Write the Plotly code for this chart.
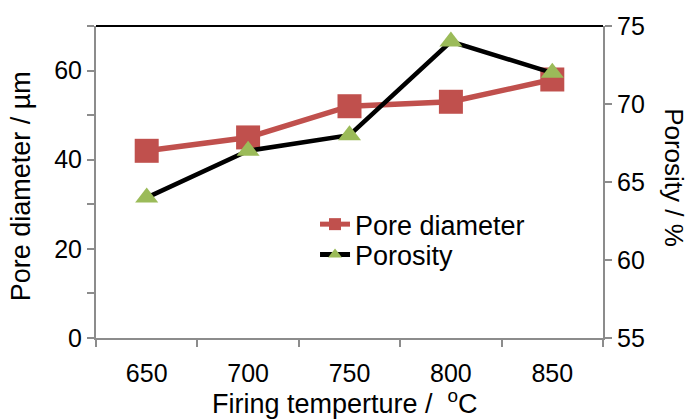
import plotly.graph_objects as go

# Firing temperature categories and measured properties
temperatures = ["650", "700", "750", "800", "850"]
pore_diameter = [42, 45, 52, 53, 58]      # µm
porosity = [64, 67, 68, 74, 72]           # %

left_ticks = [0, 10, 20, 30, 40, 50, 60, 70]
left_labels = ["0", "", "20", "", "40", "", "60", ""]
right_ticks = [55, 60, 65, 70, 75]

RED = "#C0504D"
GREEN = "#9BBB59"
AXIS_GREY = "#8c8c8c"
FONT = "Liberation Sans, Arial, sans-serif"

fig = go.Figure()

fig.add_trace(go.Scatter(
    x=temperatures, y=pore_diameter, name="Pore diameter",
    mode="lines+markers",
    line=dict(color=RED, width=5.5),
    marker=dict(symbol="square", size=24, color=RED),
    yaxis="y", legend="legend",
))
fig.add_trace(go.Scatter(
    x=temperatures, y=porosity, name="Porosity",
    mode="lines+markers",
    line=dict(color="black", width=4.5),
    marker=dict(symbol="triangle-up", size=20, color=GREEN),
    yaxis="y2", legend="legend2",
))

axis_common = dict(
    showgrid=False, zeroline=False, showline=True,
    linecolor=AXIS_GREY, linewidth=2,
    ticks="outside", tickcolor=AXIS_GREY, ticklen=7, tickwidth=2,
    tickfont=dict(family=FONT, size=25, color="black"),
)

legend_common = dict(
    xanchor="left", yanchor="top",
    bgcolor="rgba(0,0,0,0)", borderwidth=0,
    font=dict(family=FONT, size=27, color="black"),
    itemsizing="constant",
)

fig.update_layout(
    width=692, height=420,
    margin=dict(l=96, r=89, t=19, b=82),
    paper_bgcolor="white", plot_bgcolor="white",
    font=dict(family=FONT, color="black"),
    showlegend=True,
    legend=dict(x=0.432, y=0.442, **legend_common),
    legend2=dict(x=0.432, y=0.345, **legend_common),
    xaxis=dict(
        type="category", tickson="boundaries", range=[-0.5, 4.5],
        ticklabelstandoff=12,
        **axis_common,
    ),
    yaxis=dict(
        range=[0, 70], tickvals=left_ticks, ticktext=left_labels,
        **axis_common,
    ),
    yaxis2=dict(
        range=[55, 75], tickvals=right_ticks, overlaying="y", side="right",
        **axis_common,
    ),
    shapes=[dict(
        type="line", xref="paper", yref="paper", x0=0, x1=1, y0=1, y1=1,
        line=dict(color="black", width=2),
    )],
    annotations=[
        dict(text="Firing temperture / \u00a0<sup>o</sup>C", xref="paper", yref="paper",
             x=0.492, y=-0.205, xanchor="center", yanchor="middle", showarrow=False,
             font=dict(family=FONT, size=27, color="black")),
        dict(text="Pore diameter / µm", xref="paper", yref="paper",
             x=-0.148, y=0.486, xanchor="center", yanchor="middle", showarrow=False,
             textangle=-90, font=dict(family=FONT, size=27, color="black")),
        dict(text="Porosity / %", xref="paper", yref="paper",
             x=1.141, y=0.514, xanchor="center", yanchor="middle", showarrow=False,
             textangle=90, font=dict(family=FONT, size=26, color="black")),
    ],
)

fig.write_html("out.html")
